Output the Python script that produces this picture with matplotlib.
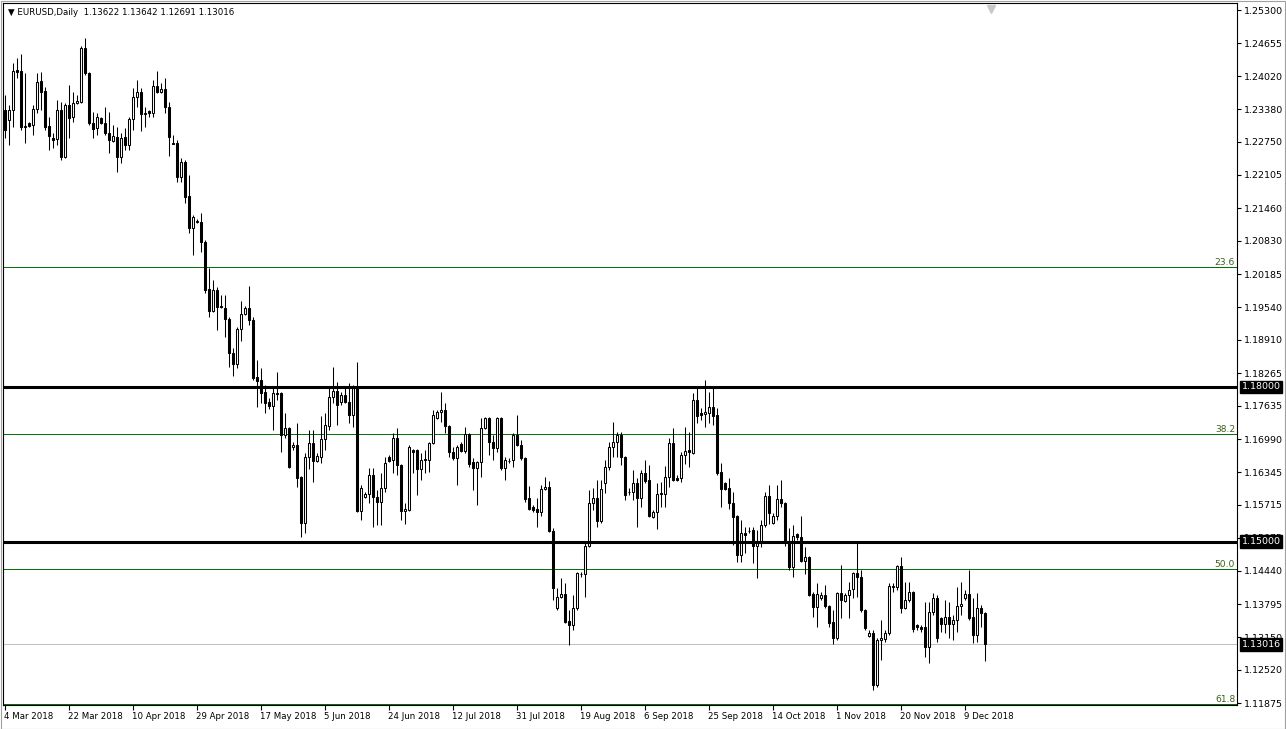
# -*- coding: utf8
'''
EURUSD daily candles, Mar-Dec 2018, drawn in the MT4 look
with support/resistance and fibonacci levels.
'''
import matplotlib
matplotlib.use('Agg')
from matplotlib import pyplot as plt
from matplotlib.patches import Rectangle
import matplotlib.transforms as mtrans

opens = [
    1.2336, 1.2317, 1.2336, 1.2414, 1.2412, 1.2303, 1.2311, 1.2307, 1.2338, 1.2392,
    1.2373, 1.2305, 1.2282, 1.2280, 1.2336, 1.2245, 1.2346, 1.2323, 1.2350, 1.2352,
    1.2456, 1.2408, 1.2311, 1.2302, 1.2321, 1.2311, 1.2292, 1.2276, 1.2284, 1.2245,
    1.2284, 1.2269, 1.2319, 1.2362, 1.2371, 1.2329, 1.2334, 1.2331, 1.2383, 1.2371,
    1.2377, 1.2342, 1.2273, 1.2272, 1.2207, 1.2236, 1.2170, 1.2108, 1.2119, 1.2119,
    1.2081, 1.1990, 1.1947, 1.1988, 1.1957, 1.1953, 1.1932, 1.1866, 1.1844, 1.1912,
    1.1941, 1.1953, 1.1930, 1.1819, 1.1813, 1.1790, 1.1771, 1.1763, 1.1788, 1.1788,
    1.1707, 1.1720, 1.1684, 1.1688, 1.1626, 1.1536, 1.1664, 1.1691, 1.1657, 1.1664,
    1.1699, 1.1724, 1.1780, 1.1792, 1.1771, 1.1784, 1.1771, 1.1746, 1.1800, 1.1560,
    1.1587, 1.1593, 1.1629, 1.1587, 1.1577, 1.1604, 1.1664, 1.1659, 1.1701, 1.1649,
    1.1560, 1.1562, 1.1678, 1.1678, 1.1641, 1.1660, 1.1658, 1.1691, 1.1740, 1.1751,
    1.1755, 1.1724, 1.1674, 1.1662, 1.1690, 1.1676, 1.1709, 1.1655, 1.1643, 1.1655,
    1.1720, 1.1740, 1.1693, 1.1682, 1.1740, 1.1643, 1.1656, 1.1658, 1.1707, 1.1688,
    1.1662, 1.1585, 1.1567, 1.1564, 1.1558, 1.1602, 1.1606, 1.1521, 1.1372, 1.1393,
    1.1399, 1.1347, 1.1339, 1.1372, 1.1437, 1.1438, 1.1492, 1.1575, 1.1585, 1.1540,
    1.1614, 1.1645, 1.1684, 1.1693, 1.1707, 1.1664, 1.1596, 1.1596, 1.1614, 1.1585,
    1.1633, 1.1620, 1.1548, 1.1558, 1.1595, 1.1593, 1.1626, 1.1691, 1.1624, 1.1624,
    1.1668, 1.1678, 1.1672, 1.1775, 1.1750, 1.1748, 1.1750, 1.1761, 1.1746, 1.1635,
    1.1614, 1.1604, 1.1575, 1.1550, 1.1474, 1.1517, 1.1521, 1.1523, 1.1492, 1.1502,
    1.1532, 1.1589, 1.1536, 1.1550, 1.1583, 1.1575, 1.1500, 1.1451, 1.1515, 1.1509,
    1.1463, 1.1470, 1.1399, 1.1374, 1.1391, 1.1397, 1.1376, 1.1345, 1.1314, 1.1401,
    1.1385, 1.1397, 1.1408, 1.1440, 1.1432, 1.1368, 1.1318, 1.1323, 1.1223, 1.1310,
    1.1312, 1.1323, 1.1413, 1.1413, 1.1453, 1.1372, 1.1387, 1.1403, 1.1339, 1.1335,
    1.1335, 1.1296, 1.1364, 1.1391, 1.1352, 1.1341, 1.1354, 1.1341, 1.1349, 1.1376,
    1.1391, 1.1399, 1.1354, 1.1320, 1.1372, 1.13622,
]
highs = [
    1.2365, 1.2346, 1.2427, 1.2437, 1.2445, 1.2408, 1.2313, 1.2346, 1.2408, 1.2410,
    1.2381, 1.2323, 1.2292, 1.2356, 1.2352, 1.2350, 1.2385, 1.2371, 1.2365, 1.2460,
    1.2476, 1.2410, 1.2332, 1.2331, 1.2323, 1.2342, 1.2332, 1.2307, 1.2303, 1.2292,
    1.2301, 1.2323, 1.2379, 1.2394, 1.2379, 1.2342, 1.2336, 1.2394, 1.2412, 1.2389,
    1.2398, 1.2352, 1.2288, 1.2278, 1.2244, 1.2240, 1.2210, 1.2133, 1.2125, 1.2137,
    1.2085, 1.2030, 1.2007, 1.1994, 1.1978, 1.1978, 1.1935, 1.1875, 1.1916, 1.1966,
    1.1957, 1.1996, 1.1935, 1.1852, 1.1837, 1.1804, 1.1779, 1.1798, 1.1829, 1.1790,
    1.1750, 1.1722, 1.1693, 1.1730, 1.1628, 1.1672, 1.1717, 1.1717, 1.1672, 1.1744,
    1.1750, 1.1798, 1.1839, 1.1810, 1.1790, 1.1800, 1.1808, 1.1804, 1.1848, 1.1610,
    1.1597, 1.1643, 1.1643, 1.1600, 1.1633, 1.1664, 1.1668, 1.1711, 1.1720, 1.1651,
    1.1575, 1.1688, 1.1680, 1.1680, 1.1672, 1.1678, 1.1693, 1.1755, 1.1755, 1.1790,
    1.1769, 1.1726, 1.1684, 1.1688, 1.1693, 1.1722, 1.1711, 1.1662, 1.1657, 1.1740,
    1.1742, 1.1742, 1.1707, 1.1742, 1.1742, 1.1664, 1.1662, 1.1711, 1.1746, 1.1697,
    1.1664, 1.1608, 1.1571, 1.1585, 1.1610, 1.1626, 1.1618, 1.1526, 1.1411, 1.1430,
    1.1420, 1.1368, 1.1397, 1.1442, 1.1442, 1.1498, 1.1600, 1.1604, 1.1620, 1.1620,
    1.1658, 1.1693, 1.1732, 1.1713, 1.1713, 1.1666, 1.1604, 1.1639, 1.1624, 1.1639,
    1.1658, 1.1649, 1.1562, 1.1614, 1.1616, 1.1647, 1.1701, 1.1720, 1.1629, 1.1674,
    1.1722, 1.1713, 1.1788, 1.1798, 1.1759, 1.1813, 1.1790, 1.1798, 1.1759, 1.1653,
    1.1616, 1.1624, 1.1597, 1.1552, 1.1542, 1.1529, 1.1529, 1.1529, 1.1523, 1.1542,
    1.1596, 1.1610, 1.1556, 1.1610, 1.1620, 1.1577, 1.1526, 1.1532, 1.1517, 1.1550,
    1.1490, 1.1472, 1.1403, 1.1420, 1.1403, 1.1416, 1.1378, 1.1368, 1.1403, 1.1455,
    1.1401, 1.1422, 1.1442, 1.1498, 1.1445, 1.1370, 1.1329, 1.1329, 1.1314, 1.1349,
    1.1329, 1.1420, 1.1420, 1.1455, 1.1471, 1.1422, 1.1422, 1.1405, 1.1341, 1.1339,
    1.1383, 1.1383, 1.1401, 1.1397, 1.1354, 1.1387, 1.1383, 1.1358, 1.1412, 1.1422,
    1.1407, 1.1445, 1.1391, 1.1401, 1.1378, 1.13642,
]
lows = [
    1.2282, 1.2269, 1.2303, 1.2398, 1.2298, 1.2272, 1.2303, 1.2288, 1.2331, 1.2336,
    1.2298, 1.2259, 1.2263, 1.2269, 1.2240, 1.2244, 1.2282, 1.2313, 1.2348, 1.2350,
    1.2404, 1.2307, 1.2282, 1.2288, 1.2309, 1.2288, 1.2253, 1.2274, 1.2216, 1.2234,
    1.2259, 1.2259, 1.2298, 1.2342, 1.2296, 1.2303, 1.2323, 1.2323, 1.2369, 1.2369,
    1.2331, 1.2247, 1.2271, 1.2197, 1.2197, 1.2156, 1.2098, 1.2056, 1.2117, 1.2061,
    1.1982, 1.1935, 1.1945, 1.1910, 1.1953, 1.1897, 1.1839, 1.1821, 1.1837, 1.1889,
    1.1939, 1.1920, 1.1813, 1.1761, 1.1769, 1.1750, 1.1757, 1.1717, 1.1775, 1.1674,
    1.1701, 1.1643, 1.1678, 1.1606, 1.1509, 1.1517, 1.1641, 1.1616, 1.1655, 1.1653,
    1.1678, 1.1717, 1.1769, 1.1726, 1.1765, 1.1769, 1.1730, 1.1722, 1.1558, 1.1542,
    1.1585, 1.1575, 1.1529, 1.1533, 1.1533, 1.1597, 1.1655, 1.1633, 1.1629, 1.1542,
    1.1535, 1.1560, 1.1633, 1.1591, 1.1620, 1.1633, 1.1635, 1.1690, 1.1738, 1.1732,
    1.1711, 1.1664, 1.1658, 1.1610, 1.1674, 1.1672, 1.1645, 1.1600, 1.1571, 1.1626,
    1.1719, 1.1668, 1.1658, 1.1674, 1.1639, 1.1620, 1.1653, 1.1645, 1.1686, 1.1658,
    1.1577, 1.1562, 1.1558, 1.1529, 1.1550, 1.1600, 1.1519, 1.1387, 1.1368, 1.1391,
    1.1343, 1.1300, 1.1329, 1.1368, 1.1432, 1.1393, 1.1490, 1.1562, 1.1529, 1.1536,
    1.1594, 1.1639, 1.1664, 1.1664, 1.1649, 1.1581, 1.1591, 1.1581, 1.1529, 1.1567,
    1.1614, 1.1548, 1.1546, 1.1525, 1.1567, 1.1567, 1.1606, 1.1618, 1.1618, 1.1616,
    1.1651, 1.1645, 1.1670, 1.1730, 1.1736, 1.1722, 1.1730, 1.1726, 1.1629, 1.1567,
    1.1600, 1.1564, 1.1494, 1.1461, 1.1461, 1.1478, 1.1517, 1.1459, 1.1430, 1.1490,
    1.1529, 1.1535, 1.1535, 1.1542, 1.1567, 1.1492, 1.1445, 1.1432, 1.1504, 1.1461,
    1.1438, 1.1395, 1.1355, 1.1335, 1.1387, 1.1372, 1.1335, 1.1302, 1.1310, 1.1352,
    1.1383, 1.1352, 1.1391, 1.1393, 1.1364, 1.1329, 1.1316, 1.1213, 1.1219, 1.1271,
    1.1306, 1.1320, 1.1403, 1.1407, 1.1362, 1.1370, 1.1383, 1.1325, 1.1329, 1.1325,
    1.1277, 1.1265, 1.1358, 1.1306, 1.1325, 1.1323, 1.1314, 1.1310, 1.1325, 1.1358,
    1.1387, 1.1349, 1.1304, 1.1306, 1.1335, 1.12691,
]
closes = [
    1.2298, 1.2336, 1.2412, 1.2410, 1.2303, 1.2305, 1.2305, 1.2338, 1.2391, 1.2371,
    1.2303, 1.2286, 1.2278, 1.2336, 1.2245, 1.2346, 1.2321, 1.2350, 1.2354, 1.2456,
    1.2408, 1.2311, 1.2300, 1.2323, 1.2311, 1.2292, 1.2278, 1.2286, 1.2245, 1.2282,
    1.2269, 1.2319, 1.2362, 1.2371, 1.2329, 1.2331, 1.2331, 1.2383, 1.2371, 1.2377,
    1.2342, 1.2284, 1.2271, 1.2207, 1.2236, 1.2168, 1.2108, 1.2129, 1.2121, 1.2081,
    1.1988, 1.1947, 1.1988, 1.1955, 1.1954, 1.1932, 1.1866, 1.1844, 1.1912, 1.1941,
    1.1953, 1.1930, 1.1817, 1.1812, 1.1788, 1.1769, 1.1763, 1.1788, 1.1786, 1.1707,
    1.1720, 1.1645, 1.1688, 1.1624, 1.1536, 1.1664, 1.1691, 1.1657, 1.1666, 1.1699,
    1.1726, 1.1780, 1.1792, 1.1765, 1.1784, 1.1771, 1.1746, 1.1800, 1.1560, 1.1604,
    1.1593, 1.1629, 1.1587, 1.1577, 1.1604, 1.1653, 1.1657, 1.1701, 1.1649, 1.1560,
    1.1564, 1.1684, 1.1674, 1.1641, 1.1658, 1.1658, 1.1691, 1.1746, 1.1751, 1.1755,
    1.1724, 1.1674, 1.1662, 1.1684, 1.1676, 1.1709, 1.1651, 1.1643, 1.1655, 1.1720,
    1.1740, 1.1693, 1.1682, 1.1740, 1.1643, 1.1658, 1.1657, 1.1707, 1.1688, 1.1662,
    1.1583, 1.1564, 1.1562, 1.1558, 1.1602, 1.1606, 1.1521, 1.1411, 1.1393, 1.1399,
    1.1345, 1.1339, 1.1372, 1.1440, 1.1438, 1.1492, 1.1575, 1.1585, 1.1540, 1.1602,
    1.1645, 1.1684, 1.1693, 1.1707, 1.1664, 1.1591, 1.1597, 1.1614, 1.1585, 1.1633,
    1.1618, 1.1550, 1.1558, 1.1593, 1.1593, 1.1626, 1.1691, 1.1620, 1.1620, 1.1668,
    1.1676, 1.1674, 1.1775, 1.1744, 1.1746, 1.1751, 1.1761, 1.1744, 1.1633, 1.1602,
    1.1602, 1.1575, 1.1548, 1.1474, 1.1517, 1.1513, 1.1520, 1.1492, 1.1502, 1.1532,
    1.1589, 1.1556, 1.1550, 1.1583, 1.1575, 1.1500, 1.1451, 1.1511, 1.1509, 1.1463,
    1.1470, 1.1397, 1.1374, 1.1399, 1.1397, 1.1375, 1.1343, 1.1314, 1.1401, 1.1387,
    1.1397, 1.1407, 1.1440, 1.1432, 1.1368, 1.1333, 1.1323, 1.1223, 1.1310, 1.1314,
    1.1323, 1.1414, 1.1414, 1.1453, 1.1372, 1.1387, 1.1403, 1.1331, 1.1335, 1.1331,
    1.1296, 1.1364, 1.1391, 1.1314, 1.1341, 1.1354, 1.1341, 1.1349, 1.1376, 1.1380,
    1.1399, 1.1352, 1.1320, 1.1372, 1.1362, 1.13016,
]

date_labels = ['4 Mar 2018', '22 Mar 2018', '10 Apr 2018', '29 Apr 2018',
               '17 May 2018', '5 Jun 2018', '24 Jun 2018', '12 Jul 2018',
               '31 Jul 2018', '19 Aug 2018', '6 Sep 2018', '25 Sep 2018',
               '14 Oct 2018', '1 Nov 2018', '20 Nov 2018', '9 Dec 2018']
date_bars = [0, 16, 32, 48, 64, 80, 96, 112, 128, 144, 160, 176, 192, 208, 224, 240]

price_ticks = [1.25300, 1.24655, 1.24020, 1.23380, 1.22750, 1.22105, 1.21460,
               1.20830, 1.20185, 1.19540, 1.18910, 1.18265, 1.17635, 1.16990,
               1.16345, 1.15715, 1.15075, 1.14440, 1.13795, 1.13150, 1.12520,
               1.11875]

levels = [1.18000, 1.15000]
fib_names = ['23.6', '38.2', '50.0', '61.8']
fib_prices = [1.2032, 1.1709, 1.1448, 1.1186]
last_price = 1.13016
title = u'EURUSD,Daily  1.13622 1.13642 1.12691 1.13016'

FIB_GREEN = '#0a700a'


def main():
    plt.rcParams['font.family'] = ['DejaVu Sans']
    fig = plt.figure(figsize=(12.86, 7.29), dpi=100)
    W, H = 1286.0, 729.0
    ax = fig.add_axes([3 / W, 24 / H, 1234 / W, 702 / H])
    ax.set_xlim(-0.5, 308)
    ax.set_ylim(1.11839, 1.25436)

    # candles
    xs = range(len(opens))
    ax.vlines(list(xs), lows, highs, color='black', linewidth=0.75, zorder=3)
    for i in xs:
        o, c = opens[i], closes[i]
        bull = c >= o
        bottom = min(o, c)
        height = max(abs(c - o), 0.00002)
        ax.bar(i, height, bottom=bottom, width=0.62,
               color='white' if bull else 'black', edgecolor='black',
               linewidth=0.75, zorder=4)

    # horizontal levels
    for lv in levels:
        ax.axhline(lv, color='black', linewidth=2.2, zorder=5)
    for name, fp in zip(fib_names, fib_prices):
        ax.axhline(fp, color=FIB_GREEN, linewidth=0.72, antialiased=False, zorder=2)
        ax.text(0.9985, fp, name, transform=ax.get_yaxis_transform(),
                ha='right', va='bottom', fontsize=6.6, color='#3d5f1a')
    ax.axhline(last_price, color='#c0c0c0', linewidth=0.72, antialiased=False,
               zorder=1)

    # axes look
    for side in ['left', 'top', 'bottom', 'right']:
        ax.spines[side].set_linewidth(0.8)
    ax.yaxis.tick_right()
    ax.set_yticks(price_ticks)
    ax.set_yticklabels(['%.5f' % p for p in price_ticks])
    ax.tick_params(axis='y', direction='out', length=3, width=0.8,
                   labelsize=6.8, pad=2)
    ax.set_xticks(date_bars)
    ax.set_xticklabels(date_labels, ha='left')
    ax.tick_params(axis='x', direction='out', length=3.5, width=0.8,
                   labelsize=6.2, pad=1.5)
    for lab in ax.get_xticklabels():
        lab.set_transform(lab.get_transform() +
                          mtrans.ScaledTranslation(-1 / 72.0, 0, fig.dpi_scale_trans))

    # price boxes on the axis
    for p in levels + [last_price]:
        ax.annotate('%.5f' % p, xy=(1, p), xycoords=ax.get_yaxis_transform(),
                    xytext=(3.2, 0), textcoords='offset points',
                    ha='left', va='center', fontsize=6.8, color='white',
                    bbox=dict(boxstyle='square,pad=0.2', fc='black', ec='black'),
                    zorder=10, annotation_clip=False)

    # chart shift marker
    ax.plot([246.6], [0.992], marker='v', markersize=6, color='#c8c8c8',
            transform=mtrans.blended_transform_factory(ax.transData, ax.transAxes),
            clip_on=False, zorder=6)

    ax.text(0.004, 0.986, u'\u25bc ' + title, transform=ax.transAxes,
            ha='left', va='center', fontsize=6.2, color='black')

    fig.patches.append(Rectangle((0.5 / W, 0.5 / H), 1 - 1.5 / W, 1 - 1.5 / H,
                                 transform=fig.transFigure, fill=False,
                                 edgecolor='#a0a0a0', linewidth=0.8))
    fig.savefig('out.png', dpi=100, facecolor='white')


if __name__ == '__main__':
    main()
